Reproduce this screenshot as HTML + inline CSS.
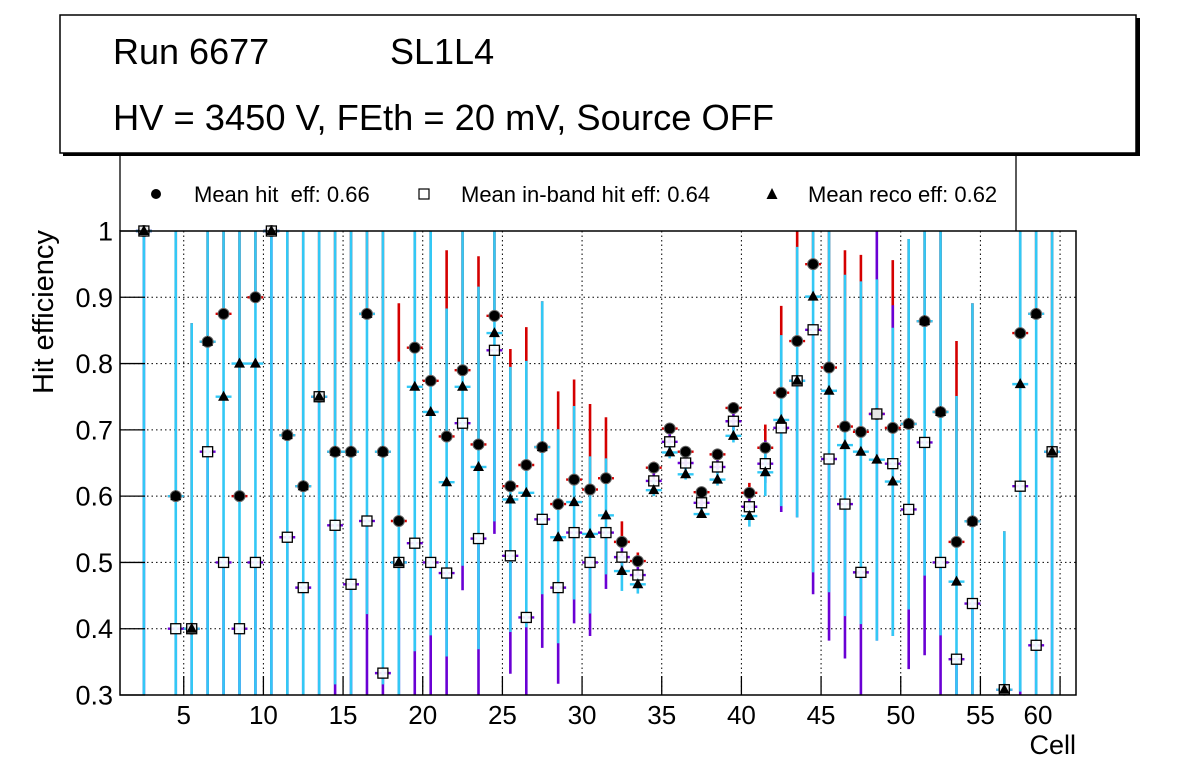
<!DOCTYPE html>
<html><head><meta charset="utf-8"><style>
html,body{margin:0;padding:0;background:#fff;}
svg{display:block;font-family:"Liberation Sans",Arial,sans-serif;}
</style></head><body>
<svg id="chart" width="1196" height="772" viewBox="0 0 1196 772" xmlns="http://www.w3.org/2000/svg">
<rect x="0" y="0" width="1196" height="772" fill="#fff"/>
<g>
<rect x="63" y="18" width="1077" height="138" fill="#000"/>
<rect x="60" y="15" width="1076" height="138" fill="#fff" stroke="#000" stroke-width="1.5"/>
<text x="113" y="64" font-size="36">Run 6677</text>
<text x="390" y="64" font-size="36">SL1L4</text>
<text x="113" y="130" font-size="36.3">HV = 3450 V, FEth = 20 mV, Source OFF</text>
</g>
<g>
<line x1="120" y1="156" x2="120" y2="231" stroke="#000" stroke-width="1.3"/>
<line x1="1016" y1="156" x2="1016" y2="231" stroke="#000" stroke-width="1.3"/>
<g><circle cx="156" cy="194" r="5" fill="#000"/><text x="194" y="202" font-size="22">Mean hit&#160; eff: 0.66</text></g>
<g><rect x="419" y="189" width="10" height="10" fill="#fff" stroke="#000" stroke-width="1.2"/><text x="461" y="202" font-size="22">Mean in-band hit eff: 0.64</text></g>
<g><polygon points="772,188 777.5,199 766.5,199" fill="#000"/><text x="808" y="202" font-size="22">Mean reco eff: 0.62</text></g>
</g>
<g id="grid"></g>
<g id="plot"></g>
<rect x="120" y="231" width="956" height="464" fill="none" stroke="#000" stroke-width="1.5"/>
<g id="axes"></g>
<text x="0" y="0" font-size="29" text-anchor="middle" transform="translate(53,312) rotate(-90)">Hit efficiency</text>
<text x="1076" y="754" font-size="27" text-anchor="end">Cell</text>
</svg>
<script>
const cells   = [2.5,4.5,5.5,6.5,7.5,8.5,9.5,10.5,11.5,12.5,13.5,14.5,15.5,16.5,17.5,18.5,19.5,20.5,21.5,22.5,23.5,24.5,25.5,26.5,27.5,28.5,29.5,30.5,31.5,32.5,33.5,34.5,35.5,36.5,37.5,38.5,39.5,40.5,41.5,42.5,43.5,44.5,45.5,46.5,47.5,48.5,49.5,50.5,51.5,52.5,53.5,54.5,56.5,57.5,58.5,59.5];
const hitEff  = [1,0.6,0.4,0.833,0.875,0.6,0.9,1,0.692,0.615,0.75,0.667,0.667,0.875,0.667,0.5625,0.824,0.774,0.69,0.79,0.678,0.872,0.615,0.647,0.674,0.588,0.625,0.61,0.627,0.531,0.502,0.643,0.702,0.667,0.606,0.663,0.733,0.605,0.673,0.756,0.834,0.95,0.794,0.705,0.697,0.724,0.703,0.709,0.864,0.727,0.531,0.562,0.308,0.846,0.875,0.667];
const inbEff  = [1,0.4,0.4,0.667,0.5,0.4,0.5,1,0.538,0.462,0.75,0.556,0.467,0.5625,0.333,0.5,0.529,0.5,0.484,0.71,0.536,0.82,0.51,0.417,0.565,0.462,0.545,0.5,0.545,0.508,0.481,0.623,0.682,0.65,0.59,0.644,0.713,0.584,0.649,0.703,0.774,0.851,0.656,0.588,0.485,0.724,0.649,0.58,0.681,0.5,0.354,0.438,0.308,0.615,0.375,0.667];
const recoEff = [1,0.6,0.4,0.833,0.75,0.8,0.8,1,0.692,0.615,0.75,0.667,0.667,0.875,0.667,0.5,0.765,0.727,0.621,0.765,0.644,0.846,0.595,0.605,0.674,0.538,0.591,0.543,0.571,0.487,0.467,0.609,0.666,0.633,0.573,0.625,0.691,0.57,0.636,0.715,0.774,0.901,0.759,0.677,0.667,0.655,0.622,0.709,0.864,0.727,0.471,0.562,0.308,0.769,0.875,0.667];
const hitHi   = [1,1,0.861,1,1,1,1,1,1,1,1,1,1,1,1,0.891,1,1,0.971,1,0.962,1,0.822,0.855,0.894,0.758,0.776,0.739,0.719,0.562,0.515,0.652,0.709,0.675,0.613,0.67,0.742,0.62,0.708,0.887,1.02,1,1,0.971,0.964,0.927,0.956,0.988,1,1,0.834,0.891,0.547,1,1,1];
const inbLo   = [0.3,0.3,0.3,0.3,0.3,0.3,0.3,0.3,0.3,0.3,0.3,0.3,0.3,0.3,0.3,0.3,0.3,0.3,0.3,0.458,0.3,0.543,0.332,0.3,0.371,0.317,0.408,0.389,0.46,0.48,0.46,0.61,0.67,0.64,0.58,0.635,0.7,0.57,0.62,0.576,0.568,0.452,0.382,0.355,0.3,0.382,0.389,0.339,0.36,0.3,0.3,0.3,0.3,0.3,0.3,0.3];
const inbHi   = [1,0.4,0.4,0.667,0.5,0.4,0.5,1,0.538,0.462,0.75,0.556,0.467,0.5625,0.333,0.5,0.529,0.5,0.484,0.71,0.536,0.82,0.51,0.417,0.565,0.462,0.545,0.5,0.545,0.535,0.5,0.64,0.695,0.66,0.6,0.655,0.725,0.6,0.684,0.703,0.774,0.851,0.656,0.588,0.485,1.0,0.888,0.58,0.681,0.5,0.354,0.438,0.308,0.615,0.375,0.667];
const recoLo  = [0.3,0.3,0.3,0.3,0.3,0.3,0.3,0.3,0.3,0.3,0.3,0.316,0.3,0.422,0.316,0.3,0.366,0.39,0.358,0.495,0.369,0.562,0.395,0.402,0.452,0.378,0.444,0.423,0.482,0.457,0.453,0.6,0.657,0.625,0.567,0.616,0.681,0.554,0.6,0.585,0.568,0.485,0.455,0.419,0.407,0.382,0.389,0.429,0.48,0.39,0.3,0.3,0.3,0.305,0.3,0.3];
const recoHi  = [1,1,0.861,1,1,1,1,1,1,1,1,1,1,1,1,0.803,1,1,0.883,1,0.916,1,0.795,0.804,0.894,0.701,0.736,0.66,0.657,0.51,0.48,0.625,0.68,0.645,0.585,0.64,0.705,0.59,0.675,0.843,0.976,1,1,0.934,0.924,0.927,0.854,0.988,1,1,0.751,0.891,0.547,1,1,1];
const xTicks = [5,10,15,20,25,30,35,40,45,50,55,60];
const yTicks = [0.3,0.4,0.5,0.6,0.7,0.8,0.9,1];
const yTickLabels = ["0.3","0.4","0.5","0.6","0.7","0.8","0.9","1"];

const NS = "http://www.w3.org/2000/svg";
const X0=120, X1=1076, Y0=695, Y1=231, XMIN=1, XMAX=61, YMIN=0.3, YMAX=1.0;
function xs(v){ return X0 + (v - XMIN) / (XMAX - XMIN) * (X1 - X0); }
function ys(v){ const c = Math.max(YMIN, Math.min(YMAX, v)); return Y0 - (c - YMIN) / (YMAX - YMIN) * (Y0 - Y1); }
function mk(tag, attrs, parent){ const e = document.createElementNS(NS, tag); for (const k in attrs) e.setAttribute(k, attrs[k]); parent.appendChild(e); return e; }
const grid = document.getElementById('grid'), plot = document.getElementById('plot'), axes = document.getElementById('axes');
const RED="#d40000", PUR="#6a00d4", CYA="#33c8f5";

xTicks.forEach((t,i)=>{
  const x = xs(t);
  const g = mk('line',{x1:x,y1:Y1,x2:x,y2:Y0,stroke:'#000','stroke-width':1,'stroke-dasharray':'1.5,3'},grid);
  
  
  const tk = mk('line',{x1:x,y1:Y0,x2:x,y2:Y0-19,stroke:'#000','stroke-width':1.3},axes);
  
  
  const lx = (t===60) ? 1038 : x;
  const lb = mk('text',{x:lx,y:724,'font-size':26,'text-anchor':'middle'},axes);
  lb.textContent = String(t);
  
  
});
yTicks.forEach((t,i)=>{
  const y = ys(t);
  if (t>YMIN && t<YMAX){
    const g = mk('line',{x1:X0,y1:y,x2:X1,y2:y,stroke:'#000','stroke-width':1,'stroke-dasharray':'1.5,3'},grid);
    
    
  }
  const tk = mk('line',{x1:X0,y1:y,x2:X0+25,y2:y,stroke:'#000','stroke-width':1.3},axes);
  
  
  const lb = mk('text',{x:113,y:y+9.5,'font-size':27,'text-anchor':'end'},axes);
  lb.textContent = yTickLabels[i];
  
  
});

function vbar(c, lo, hi, col){
  return mk('line',{x1:xs(c),y1:ys(lo),x2:xs(c),y2:ys(hi),stroke:col,'stroke-width':2.6},plot);
}
function hbar(c, v, col){
  return mk('line',{x1:xs(c-0.5),y1:ys(v),x2:xs(c+0.5),y2:ys(v),stroke:col,'stroke-width':2.4},plot);
}
cells.forEach((c,i)=>{
  let e;
  e = vbar(c, hitEff[i], hitHi[i], RED);
  
  
  e = hbar(c, hitEff[i], RED);
  
  
  e = vbar(c, inbLo[i], inbHi[i], PUR);
  
  
  e = hbar(c, inbEff[i], PUR);
  
  
  e = vbar(c, recoLo[i], recoHi[i], CYA);
  
  
  e = hbar(c, recoEff[i], CYA);
  
  
});
cells.forEach((c,i)=>{
  const x = xs(c);
  let y = ys(hitEff[i]);
  const ci = mk('circle',{cx:x,cy:y,r:5.5,fill:'#000',stroke:'#666','stroke-width':1},plot);
  
  
  y = ys(inbEff[i]);
  const sq = mk('rect',{x:x-5,y:y-5,width:10,height:10,fill:'#fff','fill-opacity':0.9,stroke:'#000','stroke-width':1.3},plot);
  
  
  y = ys(recoEff[i]);
  const tr = mk('polygon',{points:`${x},${y-6} ${x+5.5},${y+4} ${x-5.5},${y+4}`,fill:'#000'},plot);
  
  
});
</script>
</body></html>
